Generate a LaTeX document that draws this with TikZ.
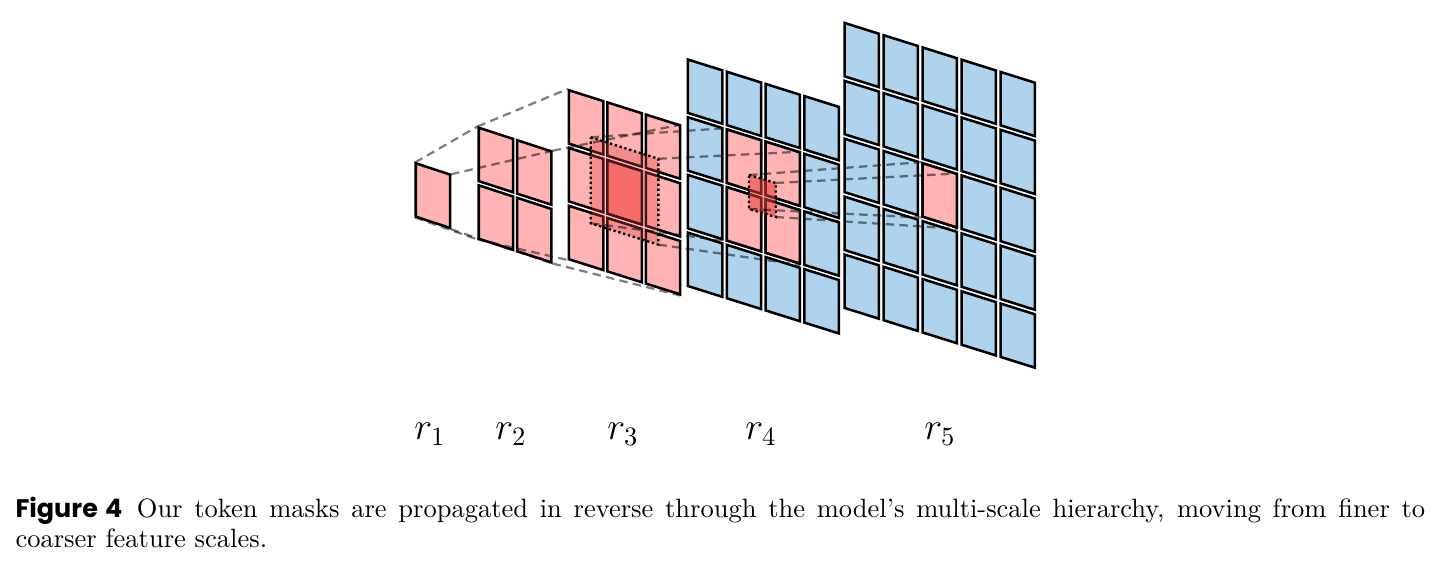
\documentclass[tikz,border=0pt]{standalone}
\usepackage{fontspec}
\newfontfamily\capsans{Poppins}
\definecolor{tpink}{HTML}{FFB3B3}
\definecolor{tblue}{HTML}{AFD3EC}
\definecolor{tred}{HTML}{FF8282}
\definecolor{ovred}{HTML}{E83C3C}
\tikzset{
  tile/.style={draw=black, line width=0.95pt, line join=miter},
  conn/.style={draw=black, draw opacity=0.5, line width=0.85pt, dash pattern=on 3.2pt off 2pt},
  rfield/.style={draw=black, line width=0.9pt, dash pattern=on 0.9pt off 1pt, fill=ovred, fill opacity=#1},
  lbl/.style={font=\fontsize{14}{16}\selectfont, inner sep=0pt, anchor=base},
  captext/.style={inner sep=0pt, anchor=base west, font=\fontsize{10}{12}\selectfont},
}
\newcommand{\gridsetup}[5]{\def\gx{#1}\def\gy{#2}\def\gpx{#3}\def\gpy{#4}\def\gs{#5}}
\newcommand{\tileij}[3]{%
  \pgfmathsetmacro\tX{\gx+1.25+#1*\gpx}%
  \pgfmathsetmacro\tY{\gy+1.25+#2*\gpy+#1*\gpx*\gs}%
  \pgfmathsetmacro\tD{34.4*\gs}%
  \draw[tile, fill=#3] (\tX,\tY) -- ++(34.4,\tD) -- ++(0,53.4) -- ++(-34.4,-\tD) -- cycle;%
}
\newcommand{\tilegrid}[2]{%
  \foreach \i in {0,...,#1}{\foreach \j in {0,...,#1}{\tileij{\i}{\j}{#2}}}%
}
\begin{document}
\begin{tikzpicture}[x=0.3774pt,y=-0.3774pt]
\useasboundingbox (0,0) rectangle (1442,572);

% r1
\gridsetup{414.5}{162}{38.5}{57.6}{0.33}
\tileij{0}{0}{tpink}
% r2
\gridsetup{477.5}{126.5}{38.3}{57.6}{0.325}
\tilegrid{1}{tpink}
% r3
\gridsetup{567.7}{89}{38.4}{57.8}{0.316}
\tilegrid{2}{tpink}
\tileij{1}{1}{tred}
% r4
\gridsetup{686.7}{58.3}{38.8}{57.7}{0.314}
\tilegrid{3}{tblue}
\tileij{1}{1}{tpink}\tileij{1}{2}{tpink}\tileij{2}{1}{tpink}\tileij{2}{2}{tpink}
% r5
\gridsetup{843.3}{21.7}{39}{57.9}{0.314}
\tilegrid{4}{tblue}
\tileij{2}{2}{tpink}

% receptive fields
\coordinate (f3tl) at (590.7,137.3);
\coordinate (f3tr) at (658.3,158.8);
\coordinate (f3br) at (658.3,244.6);
\coordinate (f3bl) at (590.7,223.3);
\path[rfield=0.32] (f3tl) -- (f3tr) -- (f3br) -- (f3bl) -- cycle;
\coordinate (f4tl) at (749,175);
\coordinate (f4tr) at (775.7,183);
\coordinate (f4br) at (775.7,217);
\coordinate (f4bl) at (749,209);
\path[rfield=0.55] (f4tl) -- (f4tr) -- (f4br) -- (f4bl) -- cycle;

% corner coordinates
\coordinate (a1) at (415,162.5);   \coordinate (b1) at (451,174.3);
\coordinate (c1) at (415,217.5);   \coordinate (d1) at (451,229.3);
\coordinate (a2) at (477.5,126.5); \coordinate (b2) at (552.5,150.8);
\coordinate (c2) at (477.5,239.5); \coordinate (d2) at (552.5,263.5);
\coordinate (a3) at (567.7,89);    \coordinate (b3) at (680.5,124.6);
\coordinate (c3) at (567.7,260);   \coordinate (d3) at (680.5,295.6);
\coordinate (a4) at (725.5,128.2); \coordinate (b4) at (800.5,151.7);
\coordinate (c4) at (725.5,241);   \coordinate (d4) at (800.5,265);
\coordinate (a5) at (921.3,162.2); \coordinate (b5) at (957.5,173.5);
\coordinate (c5) at (921.3,217.5); \coordinate (d5) at (957.5,228.8);

% connectors
\draw[conn] (a1) -- (a2);  \draw[conn] (b1) -- (b2);
\draw[conn] (c1) -- (c2);  \draw[conn] (d1) -- (d2);
\draw[conn] (a2) -- (a3);  \draw[conn] (b2) -- (b3);
\draw[conn] (c2) -- (c3);  \draw[conn] (d2) -- (d3);
\draw[conn] (f3tl) -- (a4); \draw[conn] (f3tr) -- (b4);
\draw[conn] (f3bl) -- (c4); \draw[conn] (f3br) -- (d4);
\draw[conn] (f4tl) -- (a5); \draw[conn] (f4tr) -- (b5);
\draw[conn] (f4bl) -- (c5); \draw[conn] (f4br) -- (d5);

% labels
\node[lbl] (l1) at (430,440) {$r_1$};
\node[lbl] (l2) at (511,440) {$r_2$};
\node[lbl] (l3) at (623,440) {$r_3$};
\node[lbl] (l4) at (761,440) {$r_4$};
\node[lbl] (l5) at (940,440) {$r_5$};

% caption
\node[captext] (cap1) at (15,518) {\makebox[532pt][s]{{\capsans\fontsize{9.6}{12}\selectfont\bfseries Figure 4}\hspace{5.5pt}Our token masks are propagated in reverse through the model's multi-scale hierarchy, moving from finer to}};
\node[captext] (cap2) at (15,548) {coarser feature scales.};
\end{tikzpicture}
\end{document}
